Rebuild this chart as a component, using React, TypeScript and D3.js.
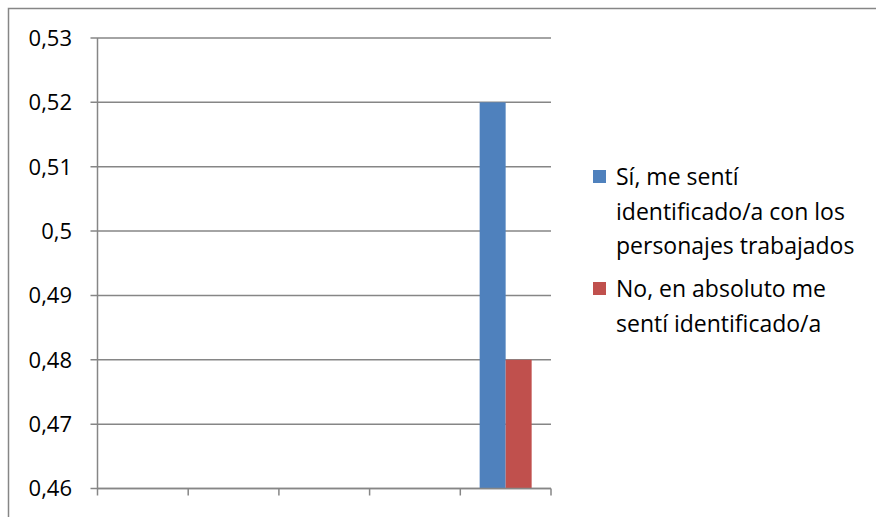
import React from "react";
import * as d3 from "d3";

const categories = ["C1", "C2", "C3", "C4", "C5"];
const seriesNames = [
  ["Sí, me sentí", "identificado/a con los", "personajes trabajados"],
  ["No, en absoluto me", "sentí identificado/a"],
];
const seriesSi = [null, null, null, null, 0.52];
const seriesNo = [null, null, null, null, 0.48];
const yTicks = [0.46, 0.47, 0.48, 0.49, 0.5, 0.51, 0.52, 0.53];
const colors = ["#4F81BD", "#C0504D"];

const W = 876;
const H = 517;
const FONT = "'Open Sans', 'Noto Sans', sans-serif";

export default function App() {
  const left = 97.5;
  const right = 551;
  const top = 38;
  const bottom = 488.5;
  const x = d3.scaleBand<string>().domain(categories).range([left, right]).padding(0);
  const xInner = d3
    .scaleBand<number>()
    .domain([0, 1])
    .range([0, x.bandwidth()])
    .paddingInner(0)
    .paddingOuter(0.744);
  const y = d3.scaleLinear().domain([0.46, 0.53]).range([bottom, top]);
  const series = [seriesSi, seriesNo];
  const fmt = (v: number) => d3.format(".2~f")(v).replace(".", ",");
  const grid = "#868686";
  const xTickPos = [...categories.map((c) => x(c)!), right];

  return (
    <svg
      width={W}
      height={H}
      style={{ position: "absolute", left: 0, top: 0, background: "#fff" }}
      fontFamily={FONT}
    >
      <rect x={8.5} y={8.5} width={W + 10} height={H + 10} fill="white" stroke={grid} strokeWidth={1.5} />
      {yTicks.map((t) => (
        <g key={t}>
          <line x1={left - 7} x2={right} y1={y(t)} y2={y(t)} stroke={grid} strokeWidth={1.5} />
          <text x={72} y={y(t)} dy="0.36em" textAnchor="end" fontSize={22} fill="#000">
            {fmt(t)}
          </text>
        </g>
      ))}
      {series.map((vals, si) =>
        vals.map((v, ci) =>
          v == null ? null : (
            <rect
              key={`${si}-${ci}`}
              x={x(categories[ci])! + xInner(si)!}
              y={y(v)}
              width={xInner.bandwidth()}
              height={bottom - y(v)}
              fill={colors[si]}
            />
          )
        )
      )}
      <line x1={left} x2={left} y1={top} y2={bottom} stroke={grid} strokeWidth={1.5} />
      <line x1={left} x2={right} y1={bottom} y2={bottom} stroke={grid} strokeWidth={1.5} />
      {xTickPos.map((p, i) => (
        <line key={i} x1={p} x2={p} y1={bottom} y2={bottom + 7} stroke={grid} strokeWidth={1.5} />
      ))}
      {seriesNames.map((lines, si) => {
        const baseY = si === 0 ? 177 : 289;
        return (
          <g key={si}>
            <rect x={593} y={baseY - 7} width={13} height={13} fill={colors[si]} />
            {lines.map((ln, li) => (
              <text key={li} x={616} y={baseY + li * 34.5} dy="0.36em" fontSize={23} fill="#000">
                {ln}
              </text>
            ))}
          </g>
        );
      })}
    </svg>
  );
}
